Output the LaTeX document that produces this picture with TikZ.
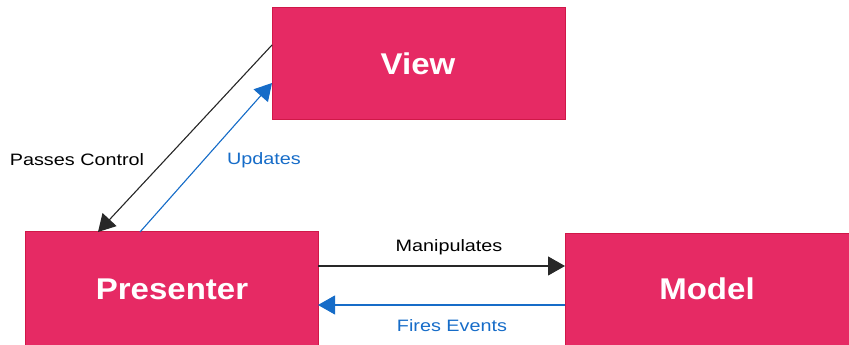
\documentclass[tikz,border=0pt]{standalone}
\usepackage{fontspec}
\setmainfont{Liberation Sans}
\newfontfamily\boxfont[FakeStretch=1.1]{Liberation Sans}
\newfontfamily\lblfont[FakeStretch=1.2]{Liberation Sans}
\usetikzlibrary{arrows.meta}
\definecolor{boxfill}{RGB}{230,42,100}
\definecolor{boxline}{RGB}{208,24,72}
\definecolor{flowblue}{RGB}{22,108,200}
\definecolor{flowblack}{RGB}{40,40,40}
\tikzset{
  block/.style={draw=boxline, line width=1pt, fill=boxfill},
  blocktext/.style={text=white, font=\boxfont\fontsize{30}{34}\selectfont\bfseries},
  lbl/.style={font=\lblfont\fontsize{16.5}{19}\selectfont},
  flow/.style={line width=1.1pt, -{Triangle[length=17pt,width=19pt]}},
}
\begin{document}
\begin{tikzpicture}[x=1pt,y=1pt]
  \useasboundingbox (0,0) rectangle (849,345);
  \clip (0,0) rectangle (849,345);
  % boxes
  \path[block] (272,337) rectangle (565,225);
  \path[block] (25,113) rectangle (318,-10);
  \path[block] (565,111) rectangle (860,-10);
  \node[blocktext] (view) at (418,281) {View};
  \node[blocktext] (presenter) at (172,56) {Presenter};
  \node[blocktext] (model) at (707,56) {Model};
  % connector end points on box edges
  \coordinate (vA) at (272,300);
  \coordinate (vB) at (272,262);
  \coordinate (pA) at (98,113);
  \coordinate (pB) at (140,113);
  \coordinate (pR1) at (318,79);
  \coordinate (pR2) at (318,40);
  \coordinate (mL1) at (565,79);
  \coordinate (mL2) at (565,40);
  % connectors
  \draw[flow, draw=flowblack, fill=flowblack] (vA) -- (pA);
  \draw[flow, draw=flowblue, fill=flowblue] (pB) -- (vB);
  \draw[flow, draw=flowblack, fill=flowblack] (pR1) -- (mL1);
  \draw[flow, draw=flowblue, fill=flowblue] (mL2) -- (pR2);
  % labels
  \node[lbl, text=black] (lpass) at (77,185) {Passes Control};
  \node[lbl, text=flowblue] (lupd) at (264,185) {Updates};
  \node[lbl, text=black] (lman) at (449,98) {Manipulates};
  \node[lbl, text=flowblue] (lfire) at (452,19) {Fires Events};
\end{tikzpicture}
\end{document}
